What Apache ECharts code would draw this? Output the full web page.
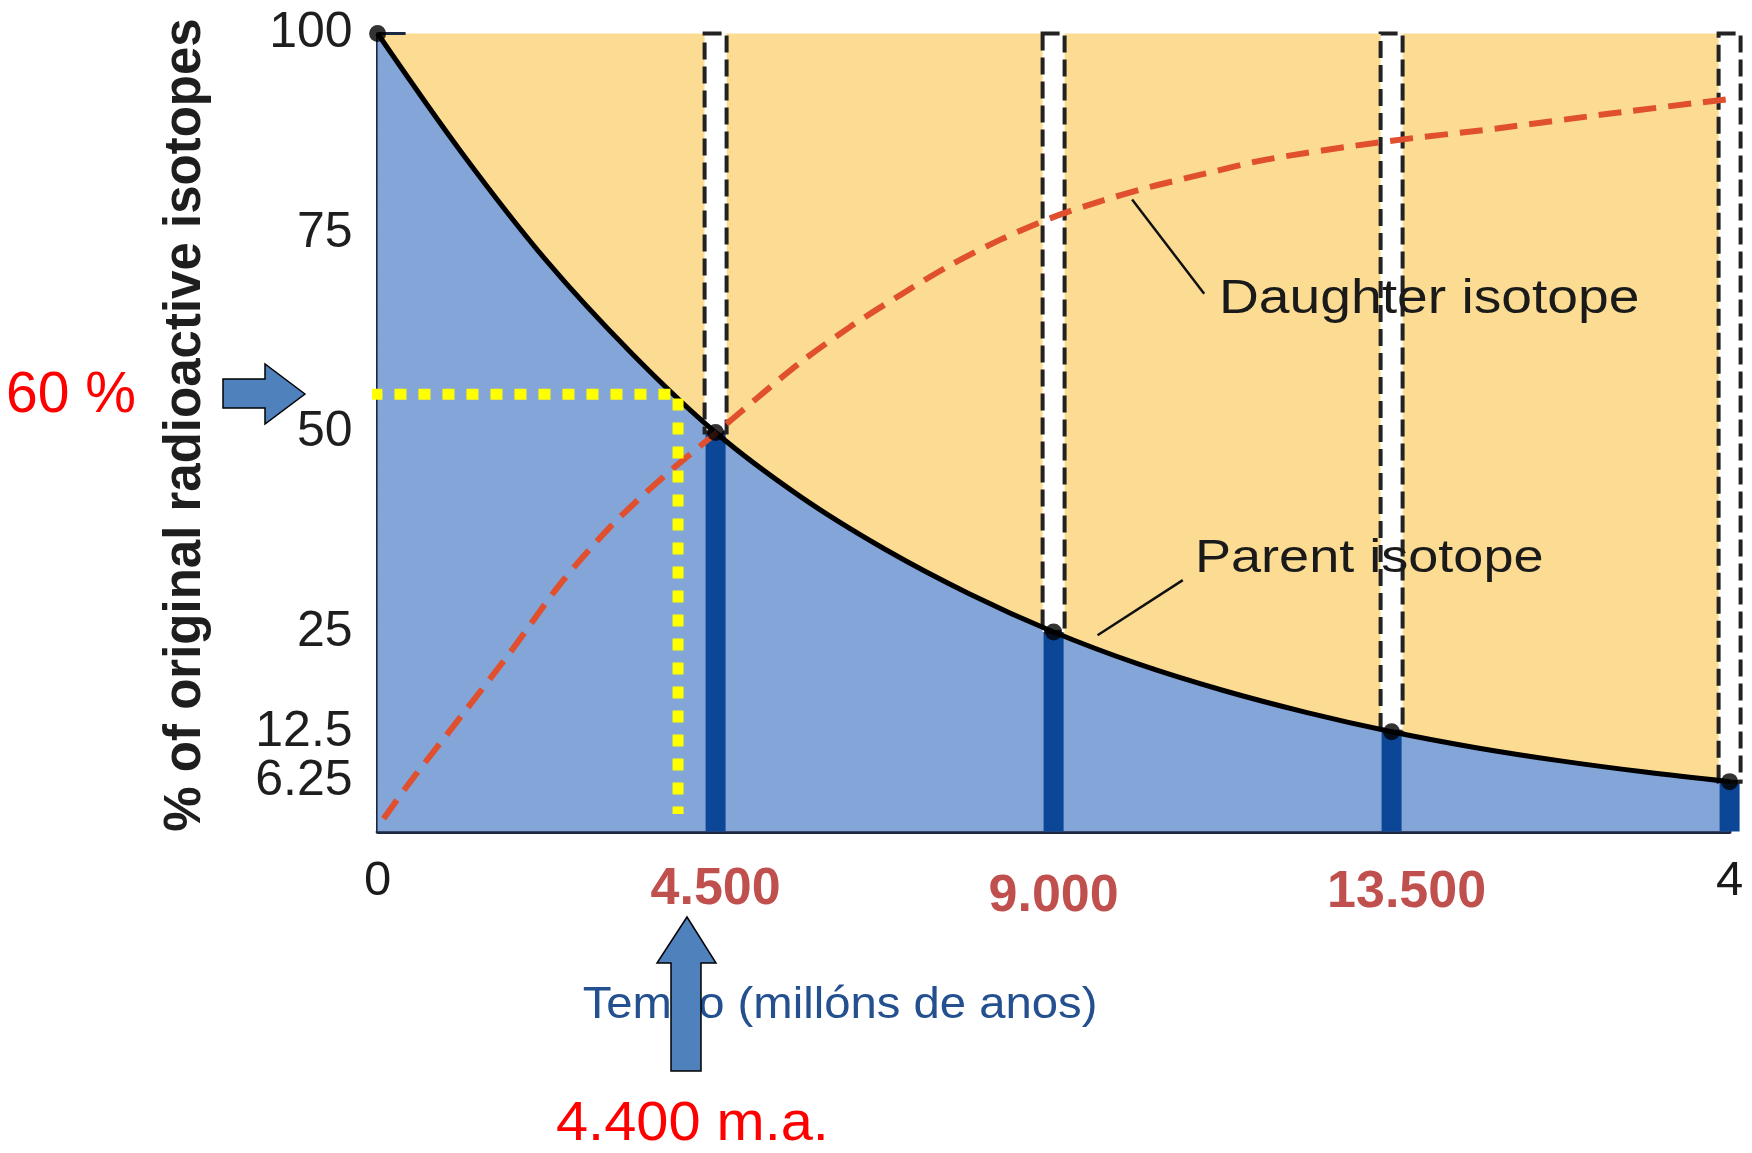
<!DOCTYPE html>
<html><head><meta charset="utf-8">
<script src="https://cdn.jsdelivr.net/npm/echarts@6/dist/echarts.min.js"></script>
<style>html,body{margin:0;padding:0;background:#fff}#c{width:1752px;height:1153px}</style>
</head><body><div id="c"></div>
<script>
// ---- data ----
const xTickValues = [0, 4500, 9000, 13500, 18000];
const xTickLabels = ['0', '4.500', '9.000', '13.500', '4'];
const yTickValues = [100, 75, 50, 25, 12.5, 6.25];

const halfLifeTimes = [4500, 9000, 13500, 18000];
const parentAtHalfLife = [50, 25, 12.5, 6.25];
const topValue = 100;

const dotTimes = [0, 4500, 9000, 13500, 18000];
const dotValues = [100, 50, 25, 12.5, 6.25];

const parentTimes = [0, 1125, 2250, 3375, 4500, 5625, 6750, 7875, 9000, 10125, 11250, 12375, 13500, 14625, 15750, 16875, 18000];
const parentValues = [100, 85, 71.5, 60, 50, 42, 35.4, 29.8, 25, 21, 17.7, 14.9, 12.5, 10.5, 8.85, 7.45, 6.25];

const daughterTimes = [80, 400, 1100, 1770, 2430, 3100, 3800, 4500, 5050, 5630, 6300, 6970, 7630, 8300, 8970, 9630, 10300, 11000, 11830, 13370, 14900, 16440, 18000];
const daughterValues = [1.6, 5.8, 14.3, 22.5, 31, 38.2, 44.4, 49.9, 54.3, 58.8, 63.3, 67.3, 71.0, 74.2, 76.9, 79.0, 80.8, 82.4, 84.2, 86.4, 88.1, 90.0, 91.8];

const guideTimes = [-95, 4000, 4000];
const guideValues = [54.8, 54.8, 2.2];

const daughterLeaderTimes = [10045, 11005];
const daughterLeaderValues = [79.2, 67.4];
const parentLeaderTimes = [9585, 10720];
const parentLeaderValues = [24.6, 31.5];

const yTitle = '% of original radioactive isotopes';
const xTitle = 'Tempo (millóns de anos)';
const daughterText = 'Daughter isotope';
const parentText = 'Parent isotope';
const pctText = '60 %';
const ageText = '4.400 m.a.';

// ---- build ----
const zip = (a, b) => a.map((v, i) => [v, b[i]]);
const FONT = '"Liberation Sans", Arial, sans-serif';
const labelStyles = ['b', 'r1', 'r2', 'r3', 'b'];

function columnRenderer(width, style) {
  return function (params, api) {
    const x = api.value(0), lo = api.value(1), hi = api.value(2);
    const pTop = api.coord([x, hi]);
    const pBot = api.coord([x, lo]);
    return {
      type: 'rect',
      shape: {x: pTop[0] - width / 2, y: pTop[1], width: width, height: pBot[1] - pTop[1]},
      style: style
    };
  };
}

const chart = echarts.init(document.getElementById('c'), null, {renderer: 'canvas'});
chart.setOption({
  animation: false,
  backgroundColor: '#ffffff',
  grid: {left: 377.6, top: 33.5, right: 22.4, bottom: 321.5, show: true,
         backgroundColor: '#fcdc93', borderWidth: 0, outerBoundsMode: 'none'},
  xAxis: {
    type: 'value', min: 0, max: 18000, interval: 4500,
    axisLine: {show: true, onZero: false, lineStyle: {color: '#1c2742', width: 4}},
    axisTick: {show: false}, splitLine: {show: false},
    axisLabel: {
      show: true, margin: 10, showMaxLabel: true, showMinLabel: true, hideOverlap: false,
      formatter: function (v) {
        const i = xTickValues.indexOf(v);
        if (i < 0) return '';
        return '{' + labelStyles[i] + '|' + xTickLabels[i] + '}';
      },
      rich: {
        b: {fontSize: 49, fontFamily: FONT, color: '#1a1a1a', lineHeight: 80},
        r1: {fontSize: 52, fontFamily: FONT, fontWeight: 'bold', color: '#c0504d', lineHeight: 97},
        r2: {fontSize: 52, fontFamily: FONT, fontWeight: 'bold', color: '#c0504d', lineHeight: 110},
        r3: {fontSize: 52, fontFamily: FONT, fontWeight: 'bold', color: '#c0504d', lineHeight: 103, padding: [0, 0, 0, 30]}
      }
    }
  },
  yAxis: {
    type: 'value', min: 0, max: 100,
    axisLine: {show: true, lineStyle: {color: '#1c2742', width: 3}},
    axisTick: {show: true, inside: true, length: 28, customValues: yTickValues,
               lineStyle: {color: '#1c2742', width: 3}},
    axisLabel: {show: true, customValues: yTickValues, margin: 25, hideOverlap: false,
                showMinLabel: true, showMaxLabel: true, lineHeight: 36,
                fontSize: 50, fontFamily: FONT, color: '#1e1e1e'},
    splitLine: {show: false}
  },
  series: [
    {type: 'line', name: 'parentArea', data: zip(parentTimes, parentValues), smooth: 0.35,
     symbol: 'none', lineStyle: {width: 0},
     areaStyle: {color: '#84a5d8', opacity: 1}, z: 1, silent: true},
    {type: 'custom', name: 'parentBar', clip: false, z: 2,
     data: halfLifeTimes.map((t, i) => [t, 0, parentAtHalfLife[i]]),
     renderItem: columnRenderer(20, {fill: '#0b4796'})},
    {type: 'custom', name: 'daughterBand', clip: false, z: 2,
     data: halfLifeTimes.map((t, i) => [t, parentAtHalfLife[i], topValue]),
     renderItem: columnRenderer(22, {fill: '#ffffff', stroke: '#222222', lineWidth: 4, lineDash: [17, 7]})},
    {type: 'line', name: 'parent', data: zip(parentTimes, parentValues), smooth: 0.35,
     symbol: 'none', lineStyle: {color: '#000000', width: 5}, z: 4},
    {type: 'line', name: 'daughter', data: zip(daughterTimes, daughterValues), smooth: 0.3,
     symbol: 'none', clip: false,
     lineStyle: {color: '#e0502f', width: 6, type: [23, 12], cap: 'butt'}, z: 5},
    {type: 'line', name: 'daughterLeader', data: zip(daughterLeaderTimes, daughterLeaderValues),
     symbol: 'none', lineStyle: {color: '#111111', width: 2.5}, z: 5},
    {type: 'line', name: 'parentLeader', data: zip(parentLeaderTimes, parentLeaderValues),
     symbol: 'none', lineStyle: {color: '#111111', width: 2.5}, z: 5},
    {type: 'scatter', name: 'dots', data: zip(dotTimes, dotValues), symbolSize: 17,
     itemStyle: {color: '#000000'}, clip: false, z: 6},
    {type: 'line', name: 'guide', data: zip(guideTimes, guideValues), symbol: 'none', clip: false,
     lineStyle: {color: '#ffff00', width: 11, type: [12, 12], cap: 'butt', join: 'miter'}, z: 7}
  ],
  graphic: [
    {type: 'text', x: 186, y: 425, rotation: Math.PI / 2, z: 50,
     style: {text: yTitle, font: 'bold 51px ' + FONT, fill: '#1e1e1e',
             textAlign: 'center', textVerticalAlign: 'middle'}},
    {type: 'text', x: 1219, y: 300, scaleX: 1.15, z: 50,
     style: {text: daughterText, font: '48px ' + FONT, fill: '#1a1a1a',
             textAlign: 'left', textVerticalAlign: 'middle'}},
    {type: 'text', x: 1195, y: 559, scaleX: 1.15, z: 50,
     style: {text: parentText, font: '47px ' + FONT, fill: '#1a1a1a',
             textAlign: 'left', textVerticalAlign: 'middle'}},
    {type: 'text', x: 840, y: 1006, scaleX: 1.05, z: 50,
     style: {text: xTitle, font: '45px ' + FONT, fill: '#24508f',
             textAlign: 'center', textVerticalAlign: 'middle'}},
    {type: 'polygon', z: 60,
     shape: {points: [[687, 917], [716, 963], [701, 963], [701, 1071], [671, 1071], [671, 963], [657, 963]]},
     style: {fill: '#4f81bd', stroke: '#000000', lineWidth: 1.5}},
    {type: 'polygon', z: 60,
     shape: {points: [[305, 394], [265, 364], [265, 379], [223, 379], [223, 408], [265, 408], [265, 424]]},
     style: {fill: '#4f81bd', stroke: '#000000', lineWidth: 1.5}},
    {type: 'text', x: 6, y: 396, z: 50,
     style: {text: pctText, font: '57px ' + FONT, fill: '#ff0000',
             textAlign: 'left', textVerticalAlign: 'middle'}},
    {type: 'text', x: 556, y: 1125, scaleX: 1.05, z: 50,
     style: {text: ageText, font: '55px ' + FONT, fill: '#ff0000',
             textAlign: 'left', textVerticalAlign: 'middle'}}
  ]
});
</script></body></html>
